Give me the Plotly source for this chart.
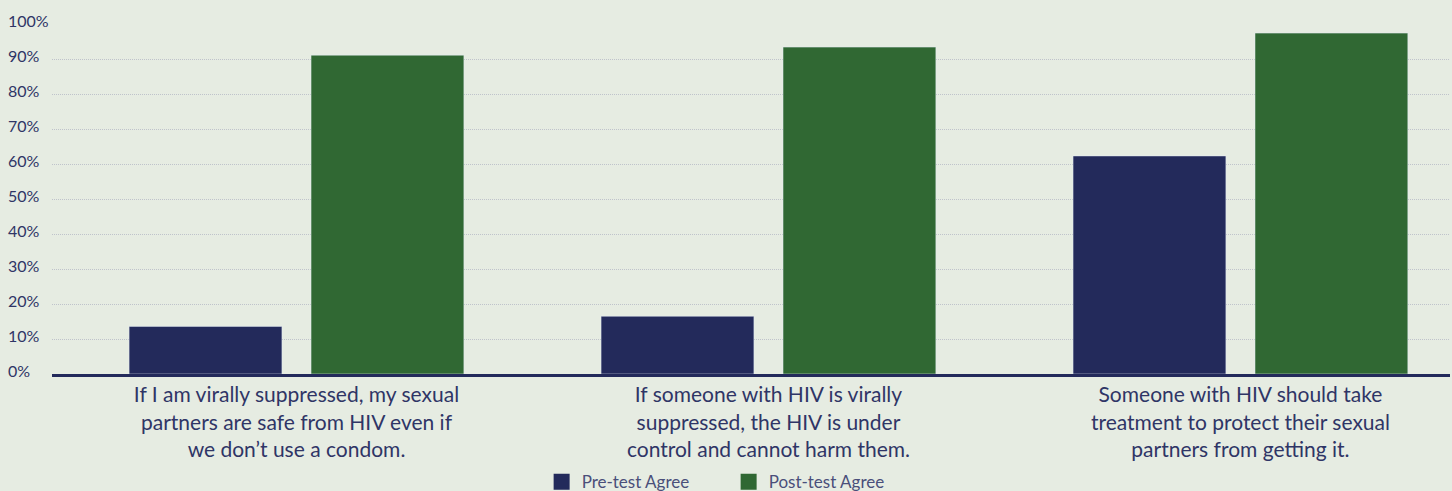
import plotly.graph_objects as go

categories = [
    "If I am virally suppressed, my sexual<br>partners are safe from HIV even if<br>we don’t use a condom.",
    "If someone with HIV is virally<br>suppressed, the HIV is under<br>control and cannot harm them.",
    "Someone with HIV should take<br>treatment to protect their sexual<br>partners from getting it.",
]
pre_test = [13.6, 16.5, 62.3]
post_test = [91.1, 93.4, 97.4]
tick_vals = [0, 10, 20, 30, 40, 50, 60, 70, 80, 90, 100]
tick_labels = ["0%", "10%", "20%", "30%", "40%", "50%", "60%", "70%", "80%", "90%", "100%"]
series_names = ["Pre-test Agree", "Post-test Agree"]

NAVY = "#232a5b"
GREEN = "#306833"
BG = "#e6ece2"
TEXT = "#2f3566"
FONT = "Lato"

fig = go.Figure()
fig.add_trace(go.Bar(x=categories, y=pre_test, name=series_names[0], marker_color=NAVY,
                     showlegend=False))
fig.add_trace(go.Bar(x=categories, y=post_test, name=series_names[1], marker_color=GREEN,
                     showlegend=False))
# legend entries with larger square swatches
for nm, col in zip(series_names, [NAVY, GREEN]):
    fig.add_trace(go.Scatter(x=[None], y=[None], mode="markers", name=nm,
                             marker=dict(symbol="square", size=16, color=col)))

annotations = []
for v, t in zip(tick_vals, tick_labels):
    annotations.append(dict(
        x=0, xref="paper", y=v, yref="y", text=t, showarrow=False,
        xanchor="left", yanchor="middle", xshift=-46, yshift=4,
        font=dict(family=FONT, size=16, color=TEXT),
    ))

fig.update_layout(
    width=1452, height=491,
    paper_bgcolor=BG, plot_bgcolor=BG,
    margin=dict(l=52, r=2, t=24, b=117, autoexpand=False),
    barmode="group", bargap=0.229, bargroupgap=0.16,
    font=dict(family=FONT, color=TEXT),
    showlegend=True,
    legend=dict(orientation="h", x=0.484, xanchor="center", y=-0.309, yanchor="middle",
                font=dict(family=FONT, size=17, color="#4a4f7a"),
                itemsizing="trace", traceorder="normal", entrywidth=142, entrywidthmode="pixels"),
    annotations=annotations,
)
fig.update_xaxes(
    showline=True, linecolor=NAVY, linewidth=3,
    tickfont=dict(family=FONT, size=21, color=TEXT),
    ticks="", showgrid=False, automargin=False,
    range=[-0.518, 2.444],
)
fig.update_yaxes(
    range=[0, 100], tickvals=tick_vals, showticklabels=False,
    showgrid=True, gridcolor="#bfc3cb", griddash="1px,1px", gridwidth=1,
    zeroline=False, ticks="", automargin=False,
)

fig.write_html("out.html")
